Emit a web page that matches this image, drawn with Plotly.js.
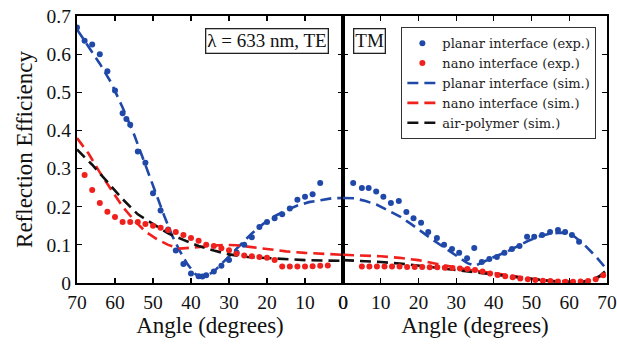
<!DOCTYPE html>
<html>
<head>
<meta charset="utf-8">
<script src="https://cdn.plot.ly/plotly-3.0.1.min.js"></script>
<style>html,body{margin:0;padding:0;background:#fff;}#chart{width:617px;height:345px;}</style>
</head>
<body>
<div id="chart"></div>
<script>
// ---------- TE panel (angle axis reversed) ----------
const teAngleExpPlanar = [70,68,66,64,62,60,58,57,56,54,52,50,48,46,44,42,40,38,37,36,34,32,30,28,26,24,22,20,18,16,14,12,10,8,6];
const teExpPlanar      = [0.67,0.635,0.625,0.60,0.555,0.505,0.445,0.43,0.415,0.345,0.315,0.235,0.19,0.14,0.085,0.05,0.025,0.018,0.017,0.02,0.03,0.045,0.06,0.08,0.10,0.12,0.147,0.16,0.17,0.18,0.195,0.218,0.226,0.233,0.262];

const teAngleExpNano = [68,66,64,62,60,58,56,54,52,50,48,46,44,42,40,38,36,34,32,30,28,26,24,22,20,18,16,14,12,10,8,6,4];
const teExpNano      = [0.283,0.244,0.21,0.187,0.173,0.16,0.16,0.16,0.155,0.15,0.145,0.139,0.134,0.126,0.118,0.111,0.10,0.097,0.091,0.086,0.077,0.072,0.07,0.068,0.066,0.06,0.043,0.043,0.043,0.043,0.044,0.045,0.046];

const teAngleSim = [70,67,64,61,58,55,52,49,47,45,43,41,39,38,36,34,32,30,27,24,21,18,15,12,9,6,3,0];
const teSimPlanar = [0.665,0.62,0.575,0.525,0.46,0.39,0.31,0.226,0.175,0.125,0.085,0.05,0.025,0.017,0.018,0.03,0.05,0.07,0.10,0.13,0.155,0.175,0.19,0.203,0.212,0.218,0.222,0.223];

const teAngleSimNano = [70,67,64,61,58,55,52,49,46,43,40,37,34,31,28,24,20,15,10,5,0];
const teSimNano      = [0.38,0.34,0.29,0.245,0.20,0.165,0.135,0.115,0.10,0.09,0.092,0.095,0.098,0.10,0.099,0.094,0.088,0.083,0.079,0.076,0.074];

const teAngleSimAir = [70,66,62,58,54,50,46,42,38,34,30,25,20,15,10,5,0];
const teSimAir      = [0.35,0.31,0.265,0.22,0.18,0.155,0.13,0.113,0.097,0.085,0.075,0.068,0.065,0.062,0.06,0.059,0.058];

// ---------- TM panel ----------
const tmAngleExpPlanar = [2.7,5,6.8,8.8,10.7,12.7,14.8,16.8,18.7,20.7,22.6,24.9,26.8,28.9,30.8,32.9,34.8,36.8,38.8,40.8,42.8,44.8,46.8,48.8,50.7,52.8,54.9,57,58.9,60.7,62.6];
const tmExpPlanar      = [0.262,0.249,0.249,0.24,0.226,0.21,0.215,0.186,0.17,0.158,0.134,0.118,0.10,0.089,0.079,0.065,0.092,0.055,0.063,0.068,0.079,0.089,0.097,0.121,0.121,0.126,0.134,0.139,0.134,0.126,0.108];

const tmAngleExpNano = [5,7,9,11,13,15,17,19,21,23,25,27,29,31,33,35,37,39,41,43,45,47,49,51,53,55,57,59,61,63,65,67,69];
const tmExpNano      = [0.043,0.043,0.043,0.043,0.043,0.043,0.042,0.042,0.042,0.041,0.041,0.04,0.039,0.038,0.037,0.034,0.03,0.025,0.021,0.018,0.015,0.012,0.01,0.008,0.006,0.005,0.004,0.003,0.003,0.004,0.005,0.01,0.02];

const tmAngleSim = [0,3,6,9,12,15,18,21,24,27,30,33,35,37,40,43,46,49,52,55,58,61,64,67,70];
const tmSimPlanar = [0.223,0.222,0.215,0.205,0.19,0.175,0.155,0.133,0.112,0.092,0.072,0.052,0.045,0.055,0.068,0.08,0.095,0.11,0.122,0.13,0.132,0.125,0.10,0.07,0.035];

const tmAngleSimLow = [0,5,10,15,20,25,30,35,40,45,50,55,60,63,66,68,70];
const tmSimNano     = [0.074,0.072,0.07,0.066,0.06,0.05,0.04,0.032,0.026,0.018,0.011,0.006,0.003,0.003,0.008,0.016,0.03];
const tmSimAir      = [0.06,0.058,0.055,0.051,0.046,0.04,0.034,0.028,0.022,0.016,0.01,0.005,0.002,0.002,0.008,0.018,0.035];

const seriesNames = ['planar interface (exp.)','nano interface (exp.)','planar interface (sim.)','nano interface (sim.)','air-polymer (sim.)'];
const yTicks = [0,0.1,0.2,0.3,0.4,0.5,0.6,0.7];
const xTicks = [0,10,20,30,40,50,60,70];

const BLUE = '#1f48a8', RED = '#f0201c', BLACK = '#111111';
const dash = '11px,6px';
const mk = c => ({color: c, size: 6});
const ln = c => ({color: c, width: 2.6, dash: dash});

const traces = [
  // TE
  {x: teAngleSim, y: teSimPlanar, xaxis:'x', yaxis:'y', mode:'lines', line: ln(BLUE), name: seriesNames[2], legendrank: 3, showlegend: true},
  {x: teAngleSimNano, y: teSimNano, xaxis:'x', yaxis:'y', mode:'lines', line: ln(RED), name: seriesNames[3], legendrank: 4, showlegend: true},
  {x: teAngleSimAir, y: teSimAir, xaxis:'x', yaxis:'y', mode:'lines', line: ln(BLACK), name: seriesNames[4], legendrank: 5, showlegend: true},
  {x: teAngleExpPlanar, y: teExpPlanar, xaxis:'x', yaxis:'y', mode:'markers', marker: mk(BLUE), name: seriesNames[0], legendrank: 1, showlegend: true},
  {x: teAngleExpNano, y: teExpNano, xaxis:'x', yaxis:'y', mode:'markers', marker: mk(RED), name: seriesNames[1], legendrank: 2, showlegend: true},
  // TM
  {x: tmAngleSim, y: tmSimPlanar, xaxis:'x2', yaxis:'y2', mode:'lines', line: ln(BLUE), showlegend: false},
  {x: tmAngleSimLow, y: tmSimNano, xaxis:'x2', yaxis:'y2', mode:'lines', line: ln(RED), showlegend: false},
  {x: tmAngleSimLow, y: tmSimAir, xaxis:'x2', yaxis:'y2', mode:'lines', line: ln(BLACK), showlegend: false},
  {x: tmAngleExpPlanar, y: tmExpPlanar, xaxis:'x2', yaxis:'y2', mode:'markers', marker: mk(BLUE), showlegend: false},
  {x: tmAngleExpNano, y: tmExpNano, xaxis:'x2', yaxis:'y2', mode:'markers', marker: mk(RED), showlegend: false}
];

const FONT = '"Liberation Serif", "Times New Roman", serif';
const LFONT = '"DejaVu Serif", serif';
const split = 266/530;
const axisCommon = {
  showline: true, linecolor: '#000', linewidth: 2.2, mirror: 'ticks',
  ticks: 'inside', ticklen: 5, tickwidth: 1.2, tickcolor: '#000',
  showgrid: false, zeroline: false,
  tickfont: {family: FONT, size: 19.5, color: '#111'}
};

const layout = {
  width: 617, height: 345,
  margin: {l: 77, r: 10, t: 16, b: 62},
  paper_bgcolor: '#fff', plot_bgcolor: '#fff',
  font: {family: FONT, color: '#111'},
  showlegend: true,
  legend: {
    x: 0.612, y: 0.958, xanchor: 'left', yanchor: 'top',
    bgcolor: '#fff', bordercolor: '#333', borderwidth: 1,
    font: {family: LFONT, size: 13, color: '#222'},
    tracegroupgap: 0, itemwidth: 30
  },
  xaxis: Object.assign({}, axisCommon, {
    domain: [0, split], range: [70, 0], tickvals: xTicks, anchor: 'y',
    title: {text: 'Angle (degrees)', font: {family: FONT, size: 23, color: '#111'}, standoff: 2}
  }),
  xaxis2: Object.assign({}, axisCommon, {
    domain: [split, 1], range: [0, 70], tickvals: xTicks, anchor: 'y2',
    title: {text: 'Angle (degrees)', font: {family: FONT, size: 23, color: '#111'}, standoff: 2}
  }),
  yaxis: Object.assign({}, axisCommon, {
    domain: [0, 1], range: [0, 0.7], tickvals: yTicks, anchor: 'x',
    ticktext: yTicks.map(v => v === 0 ? '0' : v.toFixed(1)),
    title: {text: 'Reflection Efficiency', font: {family: FONT, size: 23, color: '#111'}, standoff: 8}
  }),
  yaxis2: Object.assign({}, axisCommon, {
    domain: [0, 1], range: [0, 0.7], tickvals: yTicks, anchor: 'x2', showticklabels: false
  }),
  annotations: [
    {xref: 'x', yref: 'paper', x: 3.8, y: 0.955, xanchor: 'right', yanchor: 'top', showarrow: false,
     text: 'λ = 633 nm, TE', font: {family: FONT, size: 19, color: '#111'},
     bordercolor: '#222', borderwidth: 1.3, borderpad: 1, bgcolor: '#fff'},
    {xref: 'x2', yref: 'paper', x: 2.6, y: 0.955, xanchor: 'left', yanchor: 'top', showarrow: false,
     text: 'TM', font: {family: FONT, size: 19, color: '#111'},
     bordercolor: '#222', borderwidth: 1.3, borderpad: 1, bgcolor: '#fff'}
  ]
};

Plotly.newPlot('chart', traces, layout, {displayModeBar: false, staticPlot: true});
</script>
</body>
</html>
